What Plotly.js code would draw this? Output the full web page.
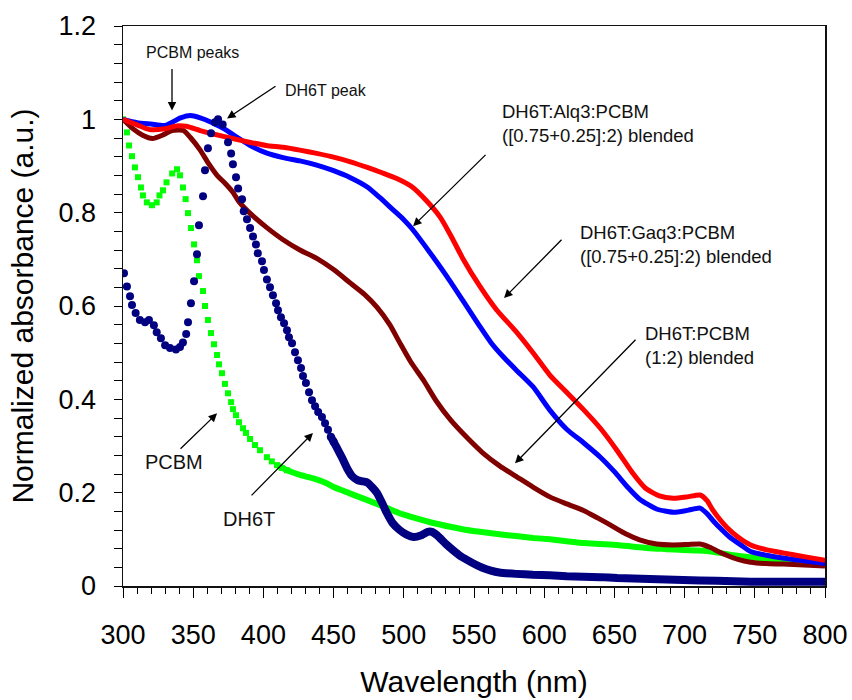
<!DOCTYPE html>
<html>
<head>
<meta charset="utf-8">
<script src="https://cdn.plot.ly/plotly-3.0.1.min.js"></script>
<style>html,body{margin:0;padding:0;background:#fff;}#chart{width:852px;height:700px;}</style>
</head>
<body>
<div id="chart"></div>
<script>
// DH6T:Gaq3:PCBM ([0.75+0.25]:2) blended (red)
const gaq3X = [300,310,319,330,338,345,355,365,378,390,402,414,426,438,450,462,474,484,495,506,516,526,534,542,554,566,580,592,604,616,628,640,652,663,672,682,692,702,711,716,720,725,730,738,747,758,770,785,800];
const gaq3Y = [1.0,0.988,0.978,0.98,0.986,0.985,0.976,0.968,0.959,0.951,0.944,0.94,0.934,0.927,0.919,0.909,0.897,0.886,0.873,0.855,0.826,0.79,0.748,0.702,0.643,0.592,0.545,0.5,0.452,0.415,0.378,0.338,0.29,0.242,0.21,0.193,0.188,0.191,0.195,0.183,0.163,0.143,0.126,0.105,0.088,0.078,0.071,0.063,0.055];

// DH6T:Alq3:PCBM ([0.75+0.25]:2) blended (blue)
const alq3X = [300,310,320,330,341,348,355,362,368,373,378,390,402,414,426,438,450,462,474,483,492,500,506,518,531,542,554,562,570,580,592,604,616,628,640,650,660,668,680,692,702,711,716,720,726,732,740,747,758,770,785,800];
const alq3Y = [1.0,0.993,0.99,0.987,1.003,1.008,1.003,0.995,0.986,0.978,0.968,0.945,0.928,0.918,0.911,0.902,0.89,0.875,0.855,0.832,0.807,0.785,0.765,0.717,0.662,0.612,0.557,0.522,0.494,0.463,0.427,0.377,0.336,0.307,0.276,0.245,0.21,0.186,0.165,0.158,0.162,0.167,0.155,0.141,0.122,0.105,0.088,0.074,0.066,0.06,0.054,0.048];

// DH6T:PCBM (1:2) blended (dark red)
const blendX = [300,307,314,321,328,335,343,348,355,361,367,373,378,383,390,402,414,426,438,450,462,472,481,490,497,505,514,523,533,545,556,568,581,592,604,616,628,638,647,658,668,680,692,702,711,718,724,730,738,747,758,770,785,800];
const blendY = [1.0,0.98,0.966,0.959,0.966,0.976,0.976,0.961,0.934,0.905,0.88,0.862,0.845,0.822,0.8,0.769,0.742,0.72,0.702,0.678,0.649,0.625,0.597,0.56,0.522,0.48,0.441,0.397,0.357,0.318,0.286,0.258,0.233,0.212,0.191,0.176,0.162,0.146,0.131,0.112,0.099,0.09,0.088,0.089,0.09,0.083,0.074,0.066,0.057,0.051,0.048,0.047,0.045,0.043];

// PCBM (green squares, then dense)
const pcbmDotX = [300,302.8,304.3,306.4,308.5,310.7,312.8,314.2,317,320.6,324,326,328.5,331,335,338.5,340.6,342.7,344.6,346.3,348.4,350.6,352.7,354.1,357,358.4,360.5,362.7,364.8,367,368.4,370.5,372.6,374.8,377,378.3,380.5,382.6,385.5,387.6,390.5,394,397.6,402.5,406,409.7,413,416.8];
const pcbmDotY = [1.0,0.972,0.944,0.921,0.897,0.876,0.854,0.837,0.822,0.816,0.822,0.837,0.848,0.865,0.884,0.893,0.88,0.854,0.829,0.799,0.767,0.732,0.698,0.664,0.632,0.6,0.57,0.542,0.518,0.495,0.475,0.456,0.433,0.413,0.394,0.379,0.366,0.351,0.338,0.328,0.315,0.302,0.291,0.276,0.267,0.259,0.253,0.248];
const pcbmTailX = [410,417,426,435,445,450,462,474,486,497,509,521,533,545,557,568,580,592,604,616,628,640,652,664,675,687,699,708,716,725,735,745,752,765,780,800];
const pcbmTailY = [0.259,0.248,0.238,0.231,0.22,0.212,0.198,0.184,0.17,0.156,0.145,0.135,0.127,0.12,0.115,0.111,0.107,0.103,0.1,0.096,0.092,0.09,0.088,0.084,0.081,0.079,0.077,0.076,0.075,0.071,0.066,0.062,0.06,0.057,0.054,0.05];

// DH6T (navy circles, then dense)
const dh6tDotX = [300.7,302.8,305,306.4,309,312,315.7,318.5,322,324,327,330,333.5,337.7,340.6,342.7,345,346.3,348.4,350.6,352.7,354.1,357,358.4,360.5,362.7,365.5,367.7,371,374.8,377,378.3,380.5,382,384.8,386,388.3,390.5,392.6,394.7,396,399,400.4,402.5,404.7,406.8,409,410.4,412.5,414.7,416.8,418.2,420.4,422.5,424.6,426.8,428.2,430.3,432.5,434.6,436.8,439,441.7,443.9,446,448,450];
const dh6tDotY = [0.67,0.642,0.621,0.602,0.585,0.57,0.565,0.57,0.559,0.544,0.531,0.516,0.51,0.507,0.512,0.522,0.54,0.565,0.606,0.653,0.711,0.773,0.835,0.891,0.938,0.97,0.994,1.0,0.989,0.951,0.927,0.904,0.876,0.852,0.829,0.803,0.786,0.767,0.749,0.732,0.713,0.696,0.677,0.657,0.64,0.623,0.606,0.591,0.576,0.563,0.548,0.533,0.52,0.501,0.484,0.467,0.45,0.435,0.415,0.398,0.385,0.373,0.362,0.349,0.335,0.32,0.309];
const dh6tTailX = [448,452,456,460,463,467,471,474,478,481,485,488,492,497,502,507,512,517,520,524,530,535,540,545,551,556,562,568,580,592,604,616,628,640,652,675,699,723,747,770,800];
const dh6tTailY = [0.32,0.298,0.275,0.25,0.236,0.227,0.224,0.222,0.21,0.199,0.175,0.156,0.135,0.12,0.11,0.105,0.108,0.116,0.116,0.108,0.09,0.077,0.065,0.056,0.046,0.039,0.033,0.029,0.026,0.024,0.023,0.021,0.02,0.019,0.017,0.015,0.013,0.011,0.009,0.009,0.009];

const FONT = 'Liberation Sans, Arial, Helvetica, sans-serif';

const traces = [
  {x: pcbmTailX, y: pcbmTailY, mode: 'lines', line: {color: '#00FF00', width: 6, shape: 'spline', smoothing: 0.6}, hoverinfo: 'skip'},
  {x: pcbmDotX, y: pcbmDotY, mode: 'markers', marker: {symbol: 'square', size: 6, color: '#00FF00'}, hoverinfo: 'skip'},
  {x: blendX, y: blendY, mode: 'lines', line: {color: '#800000', width: 5, shape: 'spline', smoothing: 0.6}, hoverinfo: 'skip'},
  {x: alq3X, y: alq3Y, mode: 'lines', line: {color: '#0000FF', width: 5, shape: 'spline', smoothing: 0.6}, hoverinfo: 'skip'},
  {x: gaq3X, y: gaq3Y, mode: 'lines', line: {color: '#FF0000', width: 5, shape: 'spline', smoothing: 0.6}, hoverinfo: 'skip'},
  {x: dh6tTailX, y: dh6tTailY, mode: 'lines', line: {color: '#000080', width: 8, shape: 'spline', smoothing: 0.5}, hoverinfo: 'skip'},
  {x: dh6tDotX, y: dh6tDotY, mode: 'markers', marker: {symbol: 'circle', size: 8, color: '#000080'}, hoverinfo: 'skip'}
];

function arrow(x, y, ax, ay) {
  return {x: x, y: y, ax: ax, ay: ay, xref: 'x', yref: 'y', axref: 'x', ayref: 'y',
    text: '', showarrow: true, arrowhead: 2, arrowsize: 1.3, arrowwidth: 1.3, arrowcolor: '#000', standoff: 0, startstandoff: 0};
}
function label(x, y, text, size, xanchor) {
  return {x: x, y: y, xref: 'x', yref: 'y', text: text, showarrow: false, xanchor: xanchor || 'left', yanchor: 'middle', align: 'left',
    font: {family: FONT, size: size, color: '#111'}};
}

const annotations = [
  arrow(334.9, 1.019, 334.9, 1.111),
  arrow(374.1, 1.002, 409.7, 1.073),
  arrow(506.6, 0.771, 559.3, 0.927),
  arrow(571.4, 0.617, 613.4, 0.745),
  arrow(579.2, 0.263, 666.1, 0.531),
  arrow(367, 0.37, 339.9, 0.291),
  arrow(435.3, 0.328, 390.5, 0.191),
  label(349.3, 1.143, 'PCBM peaks', 16, 'center'),
  label(414, 1.062, 'DH6T peak', 16, 'left'),
  label(568.5, 0.991, 'DH6T:Alq3:PCBM<br>([0.75+0.25]:2) blended', 18.5, 'left'),
  label(624.1, 0.732, 'DH6T:Gaq3:PCBM<br>([0.75+0.25]:2) blended', 18.5, 'left'),
  label(670.4, 0.516, 'DH6T:PCBM<br>(1:2) blended', 18.5, 'left'),
  label(336, 0.266, 'PCBM', 20, 'center'),
  label(389.7, 0.143, 'DH6T', 20, 'center')
];

const layout = {
  width: 852, height: 700,
  margin: {l: 123, r: 27, t: 26, b: 114},
  paper_bgcolor: '#fff', plot_bgcolor: '#fff',
  showlegend: false,
  font: {family: FONT, color: '#000'},
  xaxis: {
    range: [300, 800], dtick: 50, tick0: 300, ticks: 'outside', ticklen: 10, tickwidth: 1, tickcolor: '#000',
    minor: {dtick: 10, ticks: 'outside', ticklen: 6, tickwidth: 1, tickcolor: '#000'},
    showgrid: false, zeroline: false, showline: true, linecolor: '#111', linewidth: 1.5, mirror: true,
    tickfont: {family: FONT, size: 27, color: '#000'}, ticklabelstandoff: 14,
    title: {text: 'Wavelength (nm)', font: {family: FONT, size: 30, color: '#000'}, standoff: 22}
  },
  yaxis: {
    range: [0, 1.2], dtick: 0.2, tick0: 0, ticks: 'outside', ticklen: 8, tickwidth: 1, tickcolor: '#000',
    minor: {dtick: 0.04, ticks: 'outside', ticklen: 8, tickwidth: 1, tickcolor: '#000'},
    showgrid: false, zeroline: false, showline: true, linecolor: '#111', linewidth: 1.5, mirror: true,
    tickfont: {family: FONT, size: 27, color: '#000'}, ticklabelstandoff: 12,
    title: {text: 'Normalized absorbance (a.u.)', font: {family: FONT, size: 30, color: '#000'}, standoff: 16}
  },
  annotations: annotations
};

Plotly.newPlot('chart', traces, layout, {staticPlot: true, displayModeBar: false});
</script>
</body>
</html>
